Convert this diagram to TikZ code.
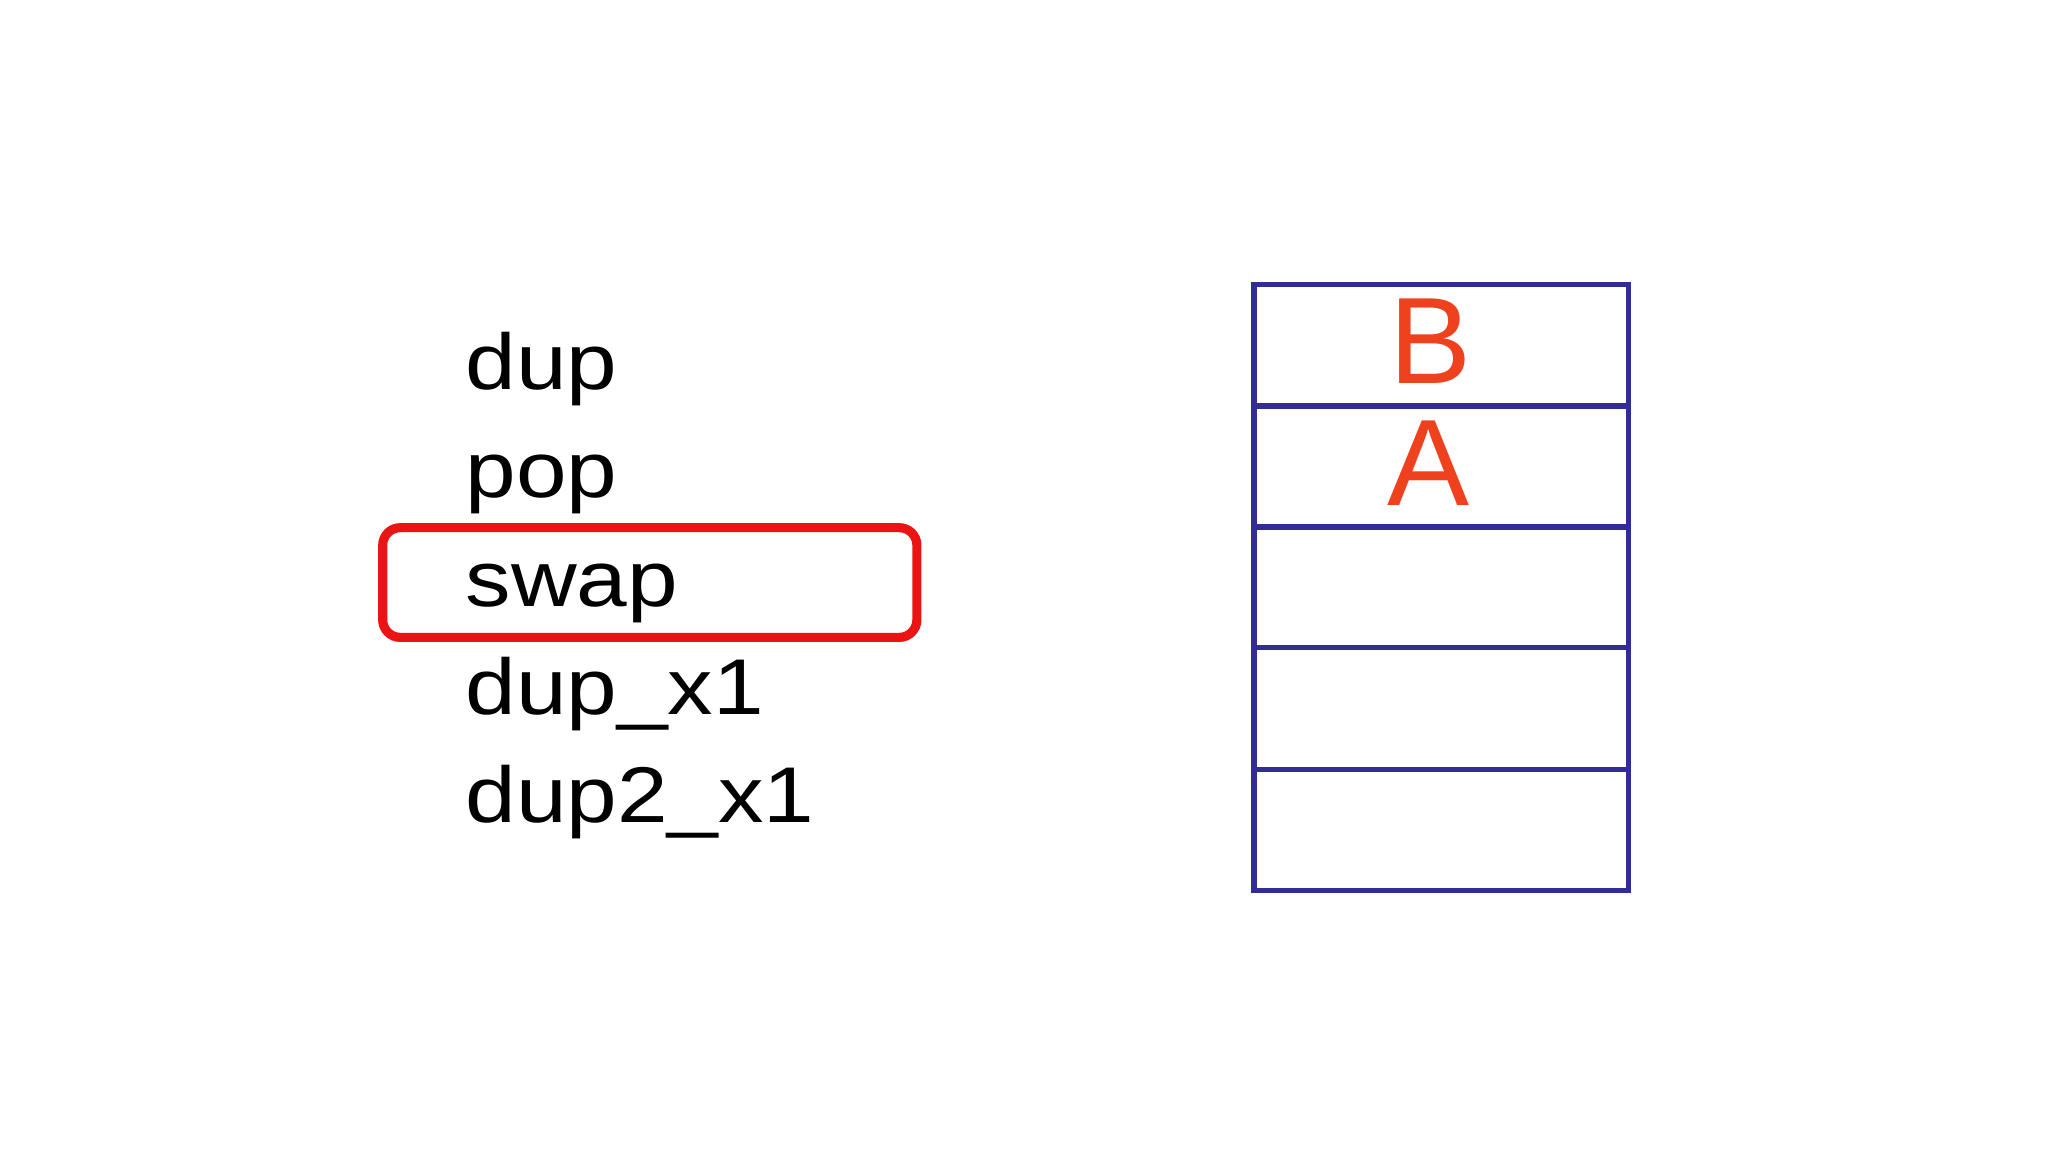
\documentclass[tikz,border=0pt]{standalone}
\usepackage{fontspec}
\setmainfont{Liberation Sans}
\newfontfamily\opfont[FakeStretch=1.15]{Liberation Sans}
\definecolor{stackblue}{RGB}{50,45,150}
\definecolor{letterred}{RGB}{240,65,30}
\definecolor{boxred}{RGB}{235,20,20}
\begin{document}
\begin{tikzpicture}[x=0.01306cm,y=-0.01306cm,
  op/.style={anchor=base west,inner sep=0pt,font=\opfont\fontsize{22.5}{26}\selectfont},
  cell/.style={draw=stackblue,line width=1.5pt,minimum width=287*0.01306cm,minimum height=93*0.01306cm,inner sep=0pt},
  letter/.style={anchor=base,inner sep=0pt,text=letterred,font=\fontsize{35}{40}\selectfont}]
\useasboundingbox (0,0) rectangle (1568,882);
\node[op] (o1) at (356,298) {dup};
\node[op] (o2) at (356,381) {pop};
\node[op] (o3) at (356,464) {swap};
\node[op] (o4) at (356,547) {dup\_x1};
\node[op] (o5) at (356,630) {dup2\_x1};
\draw[boxred,line width=2.6pt,rounded corners=5pt] (293,404) rectangle (702,488);
\foreach \i/\y in {1/264.5,2/357,3/449.5,4/542.5,5/635.5}{
  \node[cell] (c\i) at (1103.5,\y) {};
}
\node[letter] (lb) at (1095,294) {B};
\node[letter] (la) at (1094,387) {A};
\end{tikzpicture}
\end{document}
